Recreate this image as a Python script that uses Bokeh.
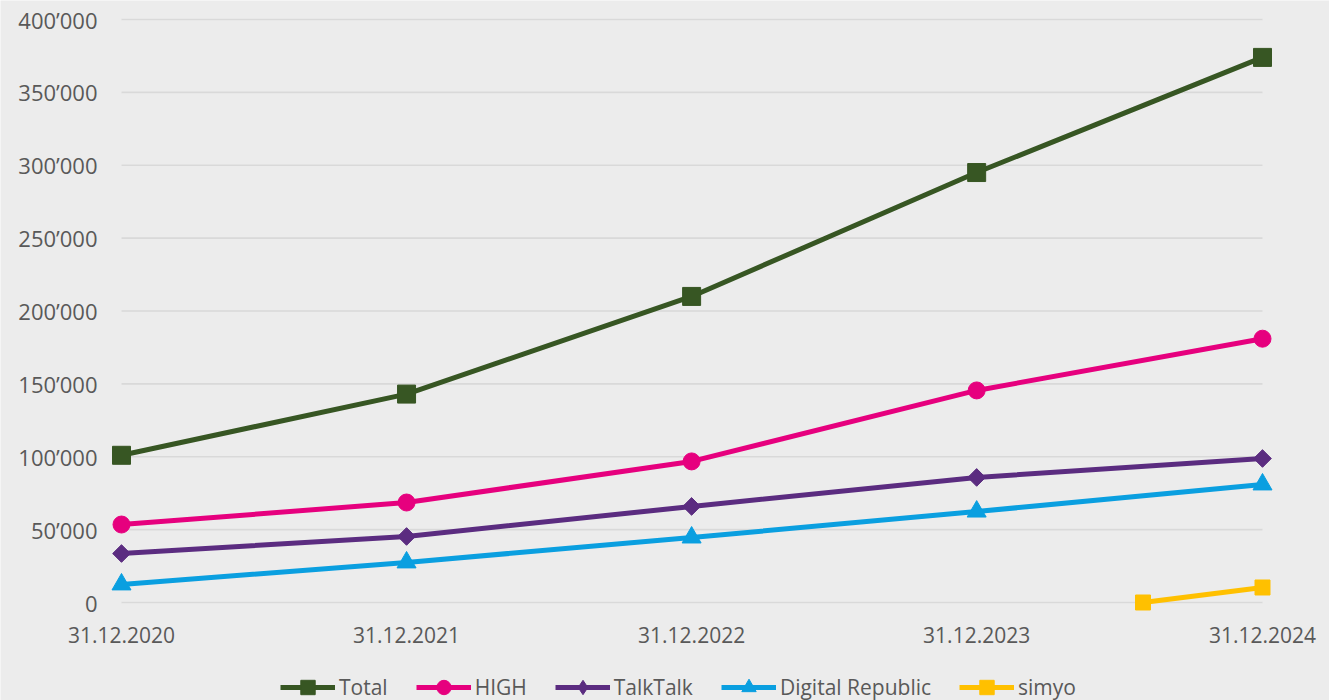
from datetime import datetime, timedelta
from math import pi
from bokeh.plotting import figure
from bokeh.models import (Range1d, FixedTicker, DatetimeTickFormatter, Legend, LegendItem)
from bokeh.embed import file_html
from bokeh.resources import INLINE

# ---- data ----
dates = [datetime(2020, 12, 31), datetime(2021, 12, 31), datetime(2022, 12, 31),
         datetime(2023, 12, 31), datetime(2024, 12, 31)]
total = [101000, 143000, 210000, 295000, 374000]
high = [53500, 68600, 96800, 145500, 181000]
talktalk = [33600, 45300, 65900, 85800, 98800]
digital_republic = [12400, 27500, 44600, 62400, 81000]
simyo_dates = [datetime(2024, 7, 31), datetime(2024, 12, 31)]
simyo = [0, 10300]

y_ticks = [0, 50000, 100000, 150000, 200000, 250000, 300000, 350000, 400000]
y_labels = ["0", "50’000", "100’000", "150’000", "200’000", "250’000",
            "300’000", "350’000", "400’000"]

BG = "#ececec"
TXT = "#595959"
FONT = "Open Sans"

EPOCH = datetime(1970, 1, 1)


def ms(d):
    return (d - EPOCH).total_seconds() * 1000


PX_PER_Y = 583 / 400000          # vertical scale (px per unit)
DAYS_PER_PX = 1461 / 1141        # horizontal scale

p = figure(frame_width=1329, frame_height=700, x_axis_type="datetime",
           output_backend="svg", toolbar_location=None,
           x_range=Range1d(dates[0] - timedelta(days=121 * DAYS_PER_PX),
                           dates[-1] + timedelta(days=67 * DAYS_PER_PX)),
           y_range=Range1d(-98 / PX_PER_Y, 400000 + 19 / PX_PER_Y),
           min_border_left=0, min_border_right=0, min_border_top=0, min_border_bottom=0)
p.background_fill_color = BG
p.border_fill_color = BG
p.outline_line_color = None
p.xgrid.visible = False
p.ygrid.visible = False

# gridlines spanning only the date extent
p.segment(x0=[dates[0]] * len(y_ticks), x1=[dates[-1]] * len(y_ticks),
          y0=y_ticks, y1=y_ticks, line_color="#d9d9d9", line_width=1.6)

series = [
    ("Total", dates, total, "#375623", "square", 18, 0, "square", 15),
    ("HIGH", dates, high, "#e6007e", "circle", 17, 0, "circle", 15),
    ("TalkTalk", dates, talktalk, "#5b2c80", "square", 12.5, pi / 4, "diamond", 19),
    ("Digital Republic", dates, digital_republic, "#0a9fe0", "triangle", 19, 0, "triangle", 16),
    ("simyo", simyo_dates, simyo, "#ffc000", "square", 15, 0, "square", 15),
]
items = []
for name, xs, ys, col, mk, sz, ang, lmk, lsz in series:
    r1 = p.line(xs, ys, line_color=col, line_width=5)
    p.scatter(xs, ys, marker=mk, size=sz, angle=ang, fill_color=col, line_color=col)
    # legend-only marker (a NaN point, so nothing is drawn in the plot)
    r3 = p.scatter(x=[xs[0]], y=[float("nan")], marker=lmk, size=lsz,
                   fill_color=col, line_color=col)
    items.append(LegendItem(label=name, renderers=[r1, r3]))

# axes
p.yaxis.ticker = FixedTicker(ticks=y_ticks)
p.yaxis.major_label_overrides = {t: l for t, l in zip(y_ticks, y_labels)}
p.xaxis.ticker = FixedTicker(ticks=[ms(d) for d in dates])
fmt = "%d.%m.%Y"
p.xaxis.formatter = DatetimeTickFormatter(days=fmt, months=fmt, years=fmt, hours=fmt,
                                          minutes=fmt, seconds=fmt, milliseconds=fmt,
                                          microseconds=fmt, minsec=fmt, hourmin=fmt)
for ax in (p.xaxis[0], p.yaxis[0]):
    ax.axis_line_color = None
    ax.major_tick_line_color = None
    ax.minor_tick_line_color = None
    ax.major_label_text_font = FONT
    ax.major_label_text_color = TXT
p.yaxis.major_label_text_font_size = "22px"
p.xaxis.major_label_text_font_size = "21px"
p.yaxis.major_label_standoff = 5
p.xaxis.major_label_standoff = 6
p.xaxis.fixed_location = -12 / PX_PER_Y
p.yaxis.fixed_location = ms(dates[0] - timedelta(days=13 * DAYS_PER_PX))

legend = Legend(items=items, orientation="horizontal", location=(280, -5),
                glyph_width=55, glyph_height=36, label_standoff=4, spacing=28,
                padding=0, margin=0, background_fill_alpha=0, border_line_color=None,
                label_text_font=FONT, label_text_font_size="21px", label_text_color=TXT)
p.add_layout(legend, "center")

open("out.html", "w").write(file_html(p, INLINE))
